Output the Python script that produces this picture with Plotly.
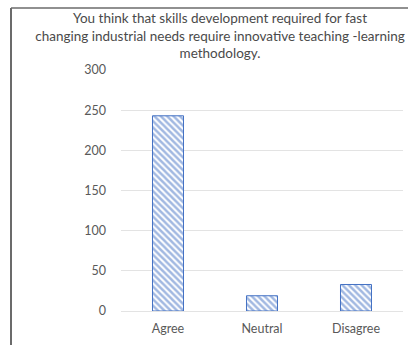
import plotly.graph_objects as go

categories = ["Agree", "Neutral", "Disagree"]
values = [243, 19, 33]
y_ticks = [0, 50, 100, 150, 200, 250, 300]
title_text = ("You think that skills development required for fast<br>"
              "changing industrial needs require innovative teaching -learning<br>"
              "methodology.")

W, H = 408, 345
L, R, T, B = 121, 5, 70, 34
pw, ph = W - L - R, H - T - B

fig = go.Figure(go.Bar(
    x=categories, y=values,
    marker=dict(
        color="white",
        line=dict(color="#4472C4", width=1),
        pattern=dict(shape="\\", fgcolor="#4472C4", bgcolor="white", size=4.5, solidity=0.55),
    ),
    width=0.33,
))

font_family = "Lato, 'Open Sans', sans-serif"
fig.update_layout(
    width=W, height=H,
    margin=dict(l=L, r=R, t=T, b=B, pad=0),
    paper_bgcolor="white", plot_bgcolor="white",
    showlegend=False,
    font=dict(family=font_family, color="#595959", size=12.5),
    title=dict(text=title_text, x=220 / W, xref="container", xanchor="center",
               y=1 - 23 / H, yref="container", yanchor="top",
               font=dict(size=13.5, color="#4a4a4a", family=font_family)),
    xaxis=dict(showgrid=False, showline=False, ticks="", tickfont=dict(size=12.5),
               range=[-0.5, 2.5], ticklabelstandoff=8),
    yaxis=dict(range=[0, 300], tickvals=y_ticks, showgrid=True, gridcolor="#E3E3E3",
               gridwidth=1, zeroline=True, zerolinecolor="#E3E3E3", zerolinewidth=1,
               showline=False, ticks="", ticklabelstandoff=14, tickfont=dict(size=12.5)),
)

# outer chart frame (left and top edges)
x_left = (11 - L) / pw
y_top = (H - B - 8) / ph
fig.add_shape(type="line", xref="paper", yref="paper", x0=x_left, x1=x_left,
              y0=y_top, y1=-B / ph - 0.05, line=dict(color="#6b6b6b", width=2))
fig.add_shape(type="line", xref="paper", yref="paper", x0=x_left, x1=(W + 20 - L) / pw,
              y0=y_top, y1=y_top, line=dict(color="#6b6b6b", width=1.5))

fig.write_html("out.html")
